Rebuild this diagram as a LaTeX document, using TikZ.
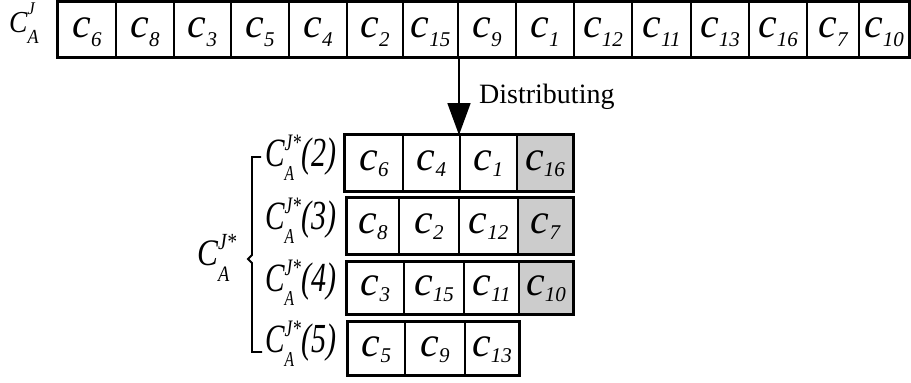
\documentclass[tikz,border=0pt]{standalone}
\usepackage{fontspec}
\usepackage{graphicx}
\setmainfont{Liberation Serif}
\usetikzlibrary{arrows.meta}
\newcommand{\cc}[2][9pt]{{\fontsize{42}{42}\selectfont\itshape c}\raisebox{-#1}{\fontsize{21}{21}\selectfont\itshape #2}}
\newcommand{\rowlab}[1]{\scalebox{0.86}[1.18]{{\fontsize{34}{34}\selectfont\itshape C}\rlap{\raisebox{13pt}{\fontsize{20}{20}\selectfont\itshape J*}}\raisebox{-12pt}{\fontsize{18}{18}\selectfont\itshape A}\hphantom{\fontsize{20}{20}\selectfont\itshape J}{\fontsize{35}{35}\selectfont\itshape (#1)}}}
\tikzset{
  cell/.style={draw, line width=1.3pt, inner sep=0pt, minimum height=#1, text height=25pt, text depth=10pt},
  cell/.default=55pt,
  outer/.style={draw, line width=2.2pt},
  lab/.style={inner sep=0pt, anchor=base west},
  rlab/.style={inner sep=0pt, anchor=base east},
}
\begin{document}
\begin{tikzpicture}[x=1pt,y=-1pt]
\useasboundingbox (0,0) rectangle (911,383);
% top label
\node[lab] (topl) at (9,32) {\scalebox{0.95}[1.05]{{\fontsize{29}{29}\selectfont\itshape C}\rlap{\raisebox{17pt}{\fontsize{17}{17}\selectfont\itshape J}}\raisebox{-11pt}{\fontsize{19}{19}\selectfont\itshape A}}};
% top row
\foreach \a/\b/\l [count=\i] in {58/116/6,116/174/8,174/231/3,231/289/5,289/347/4,347/403/2,403/458/15,458/516/9,516/574/1,574/632/12,632/691/11,691/749/13,749/807/16,807/859/7,859/909/10}
  \node[cell, minimum width={(\b-\a)*1pt}] (t\i) at ({(\a+\b)/2},29.5) {\cc{\l}};
\draw[outer] (t1.north west) rectangle (t15.south east);
% rows
\foreach \a/\b/\l/\f [count=\i] in {345/403/6/white,403/460/4/white,460/517/1/white,517/573/16/black!20}
  \node[cell=56pt, fill=\f, minimum width={(\b-\a)*1pt}] (a\i) at ({(\a+\b)/2},163) {\cc[6pt]{\l}};
\draw[outer] (a1.north west) rectangle (a4.south east);
\foreach \a/\b/\l/\f [count=\i] in {347/399/8/white,399/459/2/white,459/518/12/white,518/573/7/black!20}
  \node[cell=56pt, fill=\f, minimum width={(\b-\a)*1pt}] (b\i) at ({(\a+\b)/2},226) {\cc[6pt]{\l}};
\draw[outer] (b1.north west) rectangle (b4.south east);
\foreach \a/\b/\l/\f [count=\i] in {347/404/3/white,404/464/15/white,464/519/11/white,519/573/10/black!20}
  \node[cell=52pt, fill=\f, minimum width={(\b-\a)*1pt}] (c\i) at ({(\a+\b)/2},288) {\cc[6pt]{\l}};
\draw[outer] (c1.north west) rectangle (c4.south east);
\foreach \a/\b/\l/\f [count=\i] in {348/405/5/white,405/465/9/white,465/519/13/white}
  \node[cell=53pt, fill=\f, minimum width={(\b-\a)*1pt}] (d\i) at ({(\a+\b)/2},348.5) {\cc[6pt]{\l}};
\draw[outer] (d1.north west) rectangle (d3.south east);
% row labels
\node[rlab] (la) at (337,166) {\rowlab{2}};
\node[rlab] (lb) at (337,229) {\rowlab{3}};
\node[rlab] (lc) at (337,291) {\rowlab{4}};
\node[rlab] (ld) at (337,352) {\rowlab{5}};
% left label
\node[lab] (left) at (197,265) {\scalebox{0.92}[1.1]{{\fontsize{34}{34}\selectfont\itshape C}\rlap{\raisebox{14pt}{\fontsize{21}{21}\selectfont\itshape J*}}\raisebox{-15pt}{\fontsize{20}{20}\selectfont\itshape A}}};
% bracket
\draw[line width=1.8pt] (261,157) -- (252,157) -- (252,255) -- (248,259) -- (252,263) -- (252,352) -- (262,352);
% arrow
\coordinate (as) at (459,57);
\coordinate (ae) at (459,135);
\draw[line width=1.8pt, -{Triangle[length=32pt,width=23pt]}] (as) -- (ae);
\node[lab] (dist) at (479,103) {\fontsize{28}{28}\selectfont Distributing};
\end{tikzpicture}
\end{document}
